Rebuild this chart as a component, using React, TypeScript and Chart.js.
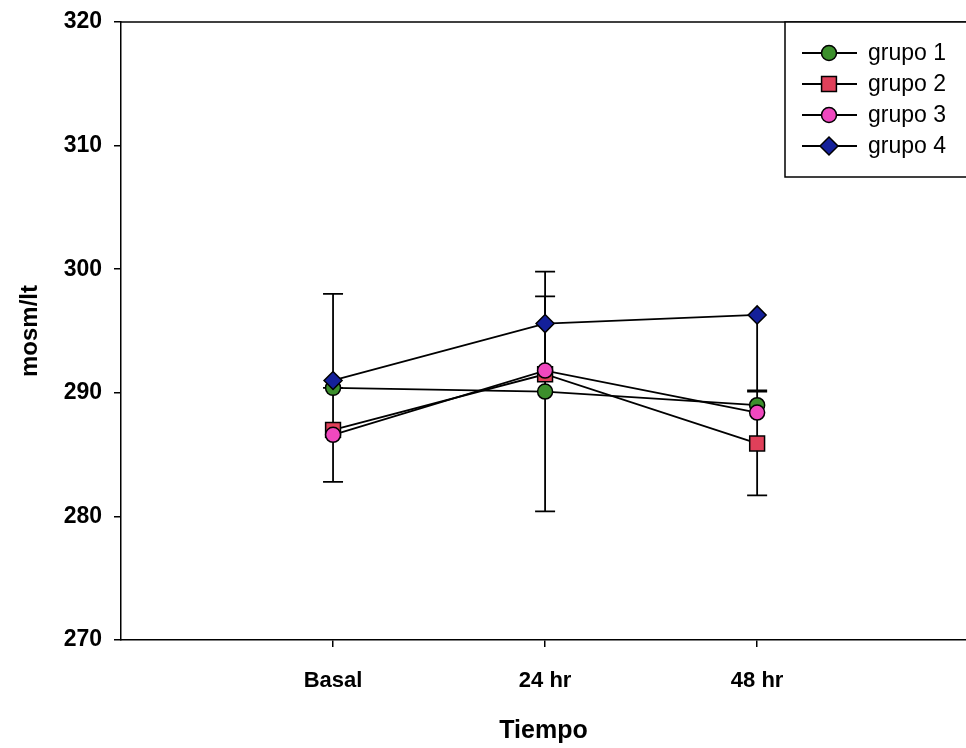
import React, { useEffect, useRef } from 'react';
import { Chart, registerables } from 'chart.js';

Chart.register(...registerables);

// ---- data ----
const categories = ['Basal', '24 hr', '48 hr'];
const xPositions = [1, 2, 3];
const yTicks = [270, 280, 290, 300, 310, 320];
const seriesNames = ['grupo 1', 'grupo 2', 'grupo 3', 'grupo 4'];

const grupo1 = [290.4, 290.1, 289.0];
const grupo2 = [287.0, 291.5, 285.9];
const grupo3 = [286.6, 291.8, 288.4];
const grupo4 = [291.0, 295.6, 296.3];

const grupo1ErrUp = [0, 9.7, 0];
const grupo1ErrDown = [0, 9.7, 0];
const grupo2ErrUp = [0, 0, 4.2];
const grupo2ErrDown = [0, 0, 4.2];
const grupo3ErrUp = [3.8, 6.0, 0];
const grupo3ErrDown = [3.8, 0, 0];
const grupo4ErrUp = [7.0, 0, 0];
const grupo4ErrDown = [0, 0, 6.1];

// ---- styles ----
const fills = ['#3c8f2c', '#e0405a', '#f048bf', '#14209a'];
const shapes = ['circle', 'rect', 'circle', 'rectRot'];
const radii = [7.5, 10.5, 7.5, 9];
const FONT = '"Liberation Sans", Arial, Helvetica, sans-serif';

const seriesValues = [grupo1, grupo2, grupo3, grupo4];
const errUp = [grupo1ErrUp, grupo2ErrUp, grupo3ErrUp, grupo4ErrUp];
const errDown = [grupo1ErrDown, grupo2ErrDown, grupo3ErrDown, grupo4ErrDown];

function drawMarker(ctx: CanvasRenderingContext2D, shape: string, x: number, y: number, r: number, fill: string) {
  ctx.save();
  ctx.beginPath();
  if (shape === 'circle') {
    ctx.arc(x, y, r, 0, Math.PI * 2);
  } else if (shape === 'rect') {
    const s = Math.SQRT1_2 * r;
    ctx.rect(x - s, y - s, 2 * s, 2 * s);
  } else {
    ctx.moveTo(x - r, y);
    ctx.lineTo(x, y - r);
    ctx.lineTo(x + r, y);
    ctx.lineTo(x, y + r);
    ctx.closePath();
  }
  ctx.fillStyle = fill;
  ctx.fill();
  ctx.lineWidth = 1.5;
  ctx.strokeStyle = '#000';
  ctx.stroke();
  ctx.restore();
}

const errorBarPlugin = {
  id: 'errorBars',
  beforeDatasetsDraw(chart: any) {
    const ctx = chart.ctx as CanvasRenderingContext2D;
    const xs = chart.scales.x;
    const ys = chart.scales.y;
    const cap = 10;
    ctx.save();
    ctx.strokeStyle = '#000';
    ctx.lineWidth = 1.8;
    seriesValues.forEach((vals, si) => {
      vals.forEach((v, i) => {
        const x = xs.getPixelForValue(xPositions[i]);
        const y0 = ys.getPixelForValue(v);
        const segs: number[] = [];
        if (errUp[si][i] > 0) segs.push(v + errUp[si][i]);
        if (errDown[si][i] > 0) segs.push(v - errDown[si][i]);
        segs.forEach((ev) => {
          const y1 = ys.getPixelForValue(ev);
          ctx.beginPath();
          ctx.moveTo(x, y0);
          ctx.lineTo(x, y1);
          ctx.moveTo(x - cap, y1);
          ctx.lineTo(x + cap, y1);
          ctx.stroke();
        });
      });
    });
    ctx.restore();
  },
};

const framePlugin = {
  id: 'frameAndLegend',
  afterDraw(chart: any) {
    const ctx = chart.ctx as CanvasRenderingContext2D;
    const { left, right, top } = chart.chartArea;
    ctx.save();
    ctx.strokeStyle = '#000';
    ctx.lineWidth = 1.5;
    ctx.beginPath();
    ctx.moveTo(left, top);
    ctx.lineTo(right, top);
    ctx.stroke();

    // legend box
    const bx = 785;
    const by = top;
    const bw = right - bx + 2;
    const bh = 155;
    ctx.fillStyle = '#fff';
    ctx.fillRect(bx, by, bw, bh);
    ctx.strokeRect(bx, by, bw, bh);

    const rowsY = [53, 84, 115, 146];
    seriesNames.forEach((name, i) => {
      const y = rowsY[i];
      ctx.beginPath();
      ctx.strokeStyle = '#000';
      ctx.lineWidth = 1.8;
      ctx.moveTo(802, y);
      ctx.lineTo(857, y);
      ctx.stroke();
      drawMarker(ctx, shapes[i], 829, y, radii[i], fills[i]);
      ctx.fillStyle = '#000';
      ctx.font = `23px ${FONT}`;
      ctx.textAlign = 'left';
      ctx.textBaseline = 'middle';
      ctx.fillText(name, 868, y + 1);
    });
    ctx.restore();
  },
};

export default function App() {
  const canvasRef = useRef<HTMLCanvasElement | null>(null);

  useEffect(() => {
    const canvas = canvasRef.current;
    if (!canvas) return;
    const datasets = seriesNames.map((name, i) => ({
      label: name,
      data: seriesValues[i].map((v, j) => ({ x: xPositions[j], y: v })),
      borderColor: '#000',
      borderWidth: 1.8,
      backgroundColor: fills[i],
      pointBackgroundColor: fills[i],
      pointBorderColor: '#000',
      pointBorderWidth: 1.5,
      pointStyle: shapes[i],
      pointRadius: radii[i],
      pointHoverRadius: radii[i],
      fill: false,
      tension: 0,
      order: 4 - i,
    }));

    const chart = new Chart(canvas, {
      type: 'line',
      data: { datasets },
      options: {
        responsive: false,
        maintainAspectRatio: false,
        animation: false,
        events: [],
        layout: { autoPadding: false, padding: { top: 22, right: 0, left: 0, bottom: 0 } },
        plugins: {
          legend: { display: false },
          tooltip: { enabled: false },
        },
        scales: {
          x: {
            type: 'linear',
            min: 0,
            max: 3.985,
            afterBuildTicks: (scale: any) => {
              scale.ticks = xPositions.map((v) => ({ value: v }));
            },
            afterFit: (scale: any) => {
              scale.height = 108;
              scale.paddingLeft = 0;
              scale.paddingRight = 0;
            },
            ticks: {
              color: '#000',
              font: { family: FONT, size: 22, weight: 'bold' },
              padding: 21,
              maxRotation: 0,
              autoSkip: false,
              callback: (v: any) => {
                const idx = xPositions.indexOf(Number(v));
                return idx >= 0 ? categories[idx] : '';
              },
            },
            grid: {
              display: true,
              drawOnChartArea: false,
              drawTicks: true,
              tickLength: 7,
              color: '#000',
              lineWidth: 1.5,
            },
            border: { display: true, color: '#000', width: 1.5 },
            title: {
              display: true,
              text: 'Tiempo',
              color: '#000',
              font: { family: FONT, size: 25, weight: 'bold' },
              padding: { top: 0, bottom: 2 },
            },
          },
          y: {
            type: 'linear',
            min: 270,
            max: 320,
            afterBuildTicks: (scale: any) => {
              scale.ticks = yTicks.map((v) => ({ value: v }));
            },
            afterFit: (scale: any) => {
              scale.width = 121;
              scale.paddingTop = 0;
              scale.paddingBottom = 0;
            },
            ticks: {
              color: '#000',
              font: { family: FONT, size: 23, weight: 'bold' },
              padding: 12,
            },
            grid: {
              display: true,
              drawOnChartArea: false,
              drawTicks: true,
              tickLength: 7,
              color: '#000',
              lineWidth: 1.5,
            },
            border: { display: true, color: '#000', width: 1.5 },
            title: {
              display: true,
              text: 'mosm/lt',
              color: '#000',
              font: { family: FONT, size: 24, weight: 'bold' },
              padding: { top: 16, bottom: 0 },
            },
          },
        },
      } as any,
      plugins: [errorBarPlugin, framePlugin],
    });

    return () => chart.destroy();
  }, []);

  return (
    <div style={{ position: 'absolute', left: 0, top: 0, width: 966, height: 748, background: '#fff' }}>
      <canvas ref={canvasRef} width={966} height={748} style={{ display: 'block', width: 966, height: 748 }} />
    </div>
  );
}
